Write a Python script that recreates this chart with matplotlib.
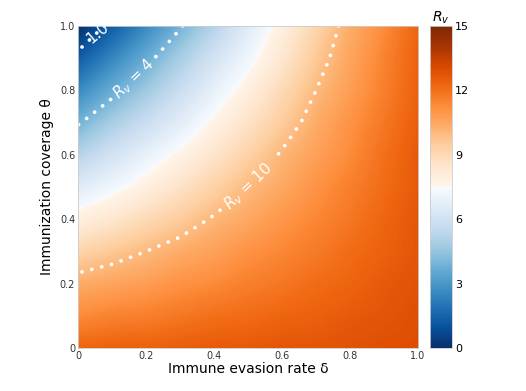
import numpy as np
import matplotlib
matplotlib.use('Agg')
import matplotlib.pyplot as plt
from matplotlib.colors import ListedColormap

# grid axes (immune evasion rate, immunization coverage)
delta = [0.0, 0.1, 0.2, 0.3, 0.4, 0.5, 0.6, 0.7, 0.8, 0.9, 1.0]
theta = [0.0, 0.1, 0.2, 0.3, 0.4, 0.5, 0.6, 0.7, 0.8, 0.9, 1.0]

# Rv, one row per theta (bottom to top)
rv = [
	[12.3, 12.4, 12.4, 12.5, 12.6, 12.6, 12.7, 12.7, 12.8, 12.9, 12.9],
	[11.3, 11.5, 11.6, 11.8, 12.0, 12.1, 12.3, 12.4, 12.6, 12.7, 12.9],
	[10.4, 10.6, 10.8, 11.1, 11.3, 11.6, 11.8, 12.1, 12.3, 12.6, 12.8],
	[9.2, 9.6, 10.0, 10.4, 10.7, 11.1, 11.4, 11.7, 12.1, 12.4, 12.7],
	[7.9, 8.4, 9.0, 9.5, 10.1, 10.5, 11.0, 11.4, 11.8, 12.3, 12.7],
	[6.6, 7.2, 7.9, 8.6, 9.3, 10.0, 10.5, 11.1, 11.6, 12.1, 12.6],
	[5.2, 6.1, 6.9, 7.7, 8.5, 9.3, 10.1, 10.7, 11.3, 12.0, 12.6],
	[3.9, 4.9, 5.8, 6.7, 7.7, 8.6, 9.5, 10.4, 11.1, 11.8, 12.5],
	[2.6, 3.7, 4.7, 5.8, 6.9, 7.9, 9.0, 10.0, 10.8, 11.6, 12.4],
	[1.3, 2.5, 3.7, 4.9, 6.1, 7.2, 8.4, 9.6, 10.6, 11.5, 12.4],
	[0.0, 1.3, 2.6, 3.9, 5.2, 6.6, 7.9, 9.2, 10.4, 11.3, 12.3],
]

edge_level = [1]
levels = [4, 10]
level_labels = {4: '$R_v$ = 4', 10: '$R_v$ = 10'}
label_pos = [(0.165, 0.835), (0.52, 0.48)]
edge_label = '1.0'
edge_label_pos = (0.057, 0.98)
cbar_ticks = [0, 3, 6, 9, 12, 15]
xticks = [0, 0.2, 0.4, 0.6, 0.8, 1.0]
xtick_labels = ['0', '0.2', '0.4', '0.6', '0.8', '1.0']


def main():
	Z = np.array(rv)
	cols = np.vstack((plt.cm.Blues_r(np.linspace(0, 1, 128)),
		plt.cm.Oranges(np.linspace(0, 1, 128))))
	cmap = ListedColormap(cols)

	fig = plt.figure(figsize=(5.26, 3.91), dpi=100)
	ax = fig.add_axes([0.1483, 0.110, 0.6464, 0.8235])
	cax = fig.add_axes([0.8175, 0.110, 0.0418, 0.8235])

	step = delta[1] - delta[0]
	im = ax.imshow(Z, origin='lower', cmap=cmap, vmin=0, vmax=15,
		extent=[delta[0] - step/2, delta[-1] + step/2, theta[0] - step/2, theta[-1] + step/2],
		interpolation='bilinear', aspect='auto')

	dots = dict(colors='white', linewidths=2.7, linestyles=[(0, (0.01, 2.7))])
	cs1 = ax.contour(delta, theta, Z, levels=edge_level, **dots)
	cs1.set_capstyle('round')
	cs = ax.contour(delta, theta, Z, levels=levels, **dots)
	cs.set_capstyle('round')
	ax.clabel(cs, fmt=level_labels, manual=label_pos, fontsize=11,
		colors='white', inline=True, inline_spacing=3)
	# label of the Rv = 1 line runs into the top edge and gets clipped
	ax.text(edge_label_pos[0], edge_label_pos[1], edge_label, color='white', fontsize=11,
		rotation=40, ha='center', va='center', rotation_mode='anchor', clip_on=True)

	ax.set_xlim(0, 1)
	ax.set_ylim(0, 1)
	ax.set_xticks(xticks)
	ax.set_xticklabels(xtick_labels)
	ax.set_yticks(xticks)
	ax.set_yticklabels(xtick_labels)
	ax.tick_params(length=0, labelsize=7, pad=2, colors='#333333')
	for s in ax.spines.values():
		s.set_color('#cccccc')
		s.set_linewidth(0.6)
	ax.set_xlabel('Immune evasion rate δ', fontsize=10, labelpad=1)
	ax.set_ylabel('Immunization coverage θ', fontsize=10, labelpad=4)

	cb = fig.colorbar(im, cax=cax, ticks=cbar_ticks)
	cb.ax.tick_params(length=0, labelsize=8, pad=2)
	cb.outline.set_edgecolor('#cccccc')
	cb.outline.set_linewidth(0.6)
	cax.set_title('$R_v$', fontsize=10, pad=3)

	fig.savefig('out.png', dpi=100)
	plt.close(fig)


if __name__ == '__main__':
	main()
